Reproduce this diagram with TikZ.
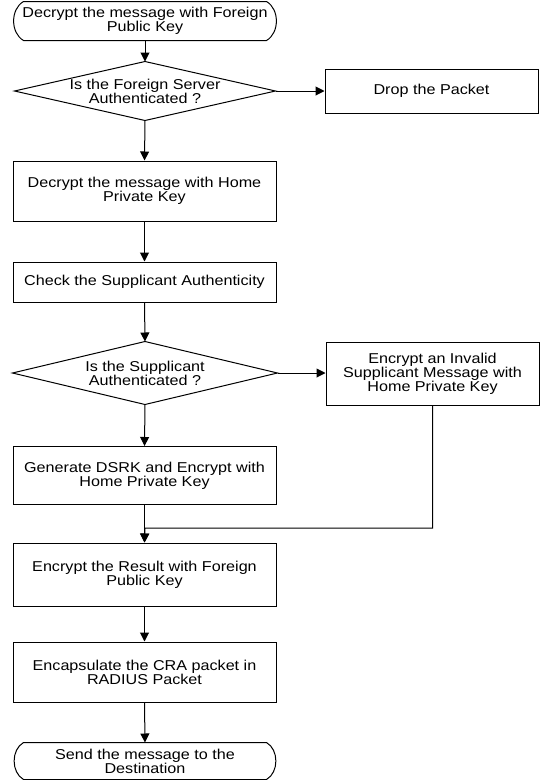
\documentclass[tikz,border=0pt]{standalone}
\usepackage{fontspec}
\setmainfont{Liberation Sans}[FakeStretch=1.13]
\usetikzlibrary{arrows.meta}
\begin{document}
\begin{tikzpicture}[x=1pt,y=-1pt,line width=1pt,
  every node/.style={font=\fontsize{14.3pt}{14pt}\selectfont, align=center, inner sep=0pt},
  procbox/.style={draw, rectangle},
  shapebox/.style={rectangle},
  arr/.style={-{Triangle[length=9pt,width=9pt]}}]
\useasboundingbox (0,0) rectangle (542,780);

\node[shapebox, minimum width=264, minimum height=38] (t1) at (145,21) {Decrypt the message with Foreign\\Public Key};
\draw ([xshift=11pt]t1.north west) -- ([xshift=-11pt]t1.north east) to[bend left=60] ([xshift=-11pt]t1.south east) -- ([xshift=11pt]t1.south west) to[bend left=60] ([xshift=11pt]t1.north west) -- cycle;

\node[shapebox, minimum width=260, minimum height=58] (d1) at (145,91) {Is the Foreign Server\\Authenticated ?};
\draw (d1.north) -- (d1.east) -- (d1.south) -- (d1.west) -- cycle;

\node[procbox, minimum width=213, minimum height=44] (drop) at (431.5,91) {Drop the Packet};

\node[procbox, minimum width=263, minimum height=60] (b2) at (144.5,191) {Decrypt the message with Home\\Private Key};

\node[procbox, minimum width=263, minimum height=40] (b3) at (144.5,282) {Check the Supplicant Authenticity};

\node[shapebox, minimum width=264, minimum height=62] (d2) at (145,373) {Is the Supplicant\\Authenticated ?};
\draw (d2.north) -- (d2.east) -- (d2.south) -- (d2.west) -- cycle;

\node[procbox, minimum width=213, minimum height=63] (inv) at (432.5,373.5) {Encrypt an Invalid\\Supplicant Message with\\Home Private Key};

\node[procbox, minimum width=263, minimum height=58] (gen) at (144.5,475.5) {Generate DSRK and Encrypt with\\Home Private Key};

\coordinate (j) at (145,528);

\node[procbox, minimum width=263, minimum height=63] (res) at (144.5,574.5) {Encrypt the Result with Foreign\\Public Key};

\node[procbox, minimum width=263, minimum height=60] (enc) at (144.5,672) {Encapsulate the CRA packet in\\RADIUS Packet};

\node[shapebox, minimum width=264, minimum height=36] (t2) at (145,761) {Send the message to the\\Destination};
\draw ([xshift=11pt]t2.north west) -- ([xshift=-11pt]t2.north east) to[bend left=60] ([xshift=-11pt]t2.south east) -- ([xshift=11pt]t2.south west) to[bend left=60] ([xshift=11pt]t2.north west) -- cycle;

\draw[arr] (t1.south) -- (d1.north);
\draw[arr] (d1.east) -- (drop.west);
\draw[arr] (d1.south) -- (b2.north);
\draw[arr] (b2.south) -- (b3.north);
\draw[arr] (b3.south) -- (d2.north);
\draw[arr] (d2.east) -- (d2.east -| inv.west);
\draw[arr] (d2.south) -- (gen.north);
\draw[arr] (gen.south) -- (res.north);
\draw[arr] (inv.south) |- (j) -- (res.north);
\draw[arr] (res.south) -- (enc.north);
\draw[arr] (enc.south) -- (t2.north);
\end{tikzpicture}
\end{document}
